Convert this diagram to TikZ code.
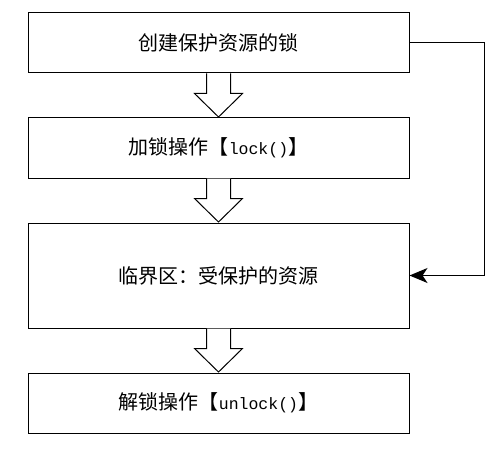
\documentclass[tikz,border=0pt]{standalone}
\usepackage{fontspec}
\newfontfamily\cjk{Noto Sans CJK SC}
\newfontfamily\monof{Liberation Mono}
\usetikzlibrary{calc,arrows.meta}
\tikzset{
  box/.style={draw=black, line width=1pt, minimum width=381pt, inner sep=0pt, font=\cjk\fontsize{20}{23}\selectfont},
  blockarr/.style={draw=black, line width=1pt, fill=white, line join=miter},
  link/.style={draw=black, line width=1pt, -{Stealth[length=18pt,width=15pt,inset=5pt]}}
}
\newcommand\blockarrow[2]{%
  \draw[blockarr] ($(#1.south)+(-12,0)$) -- ($(#2.north)+(-12,24)$) -- ($(#2.north)+(-24,24)$) -- ($(#2.north)+(0,0.5)$) -- ($(#2.north)+(24,24)$) -- ($(#2.north)+(12,24)$) -- ($(#1.south)+(12,0)$);}
\begin{document}
\begin{tikzpicture}[x=1pt,y=1pt]
\useasboundingbox (0,0) rectangle (502,-449);
\node[box, minimum height=60pt] (b1) at (218.5,-43) {创建保护资源的锁};
\node[box, minimum height=60pt] (b2) at (218.5,-148) {加锁操作【{\monof\fontsize{16.5}{20}\selectfont lock()}】};
\node[box, minimum height=105pt] (b3) at (218.5,-275.5) {临界区：受保护的资源};
\node[box, minimum height=60pt] (b4) at (218.5,-403) {解锁操作【{\monof\fontsize{16.5}{20}\selectfont unlock()}】};
\blockarrow{b1}{b2}
\blockarrow{b2}{b3}
\blockarrow{b3}{b4}
\coordinate (c1) at ($(b1.east)+(75,0)$);
\draw[link] (b1.east) -- (c1) |- (b3.east);
\end{tikzpicture}
\end{document}
